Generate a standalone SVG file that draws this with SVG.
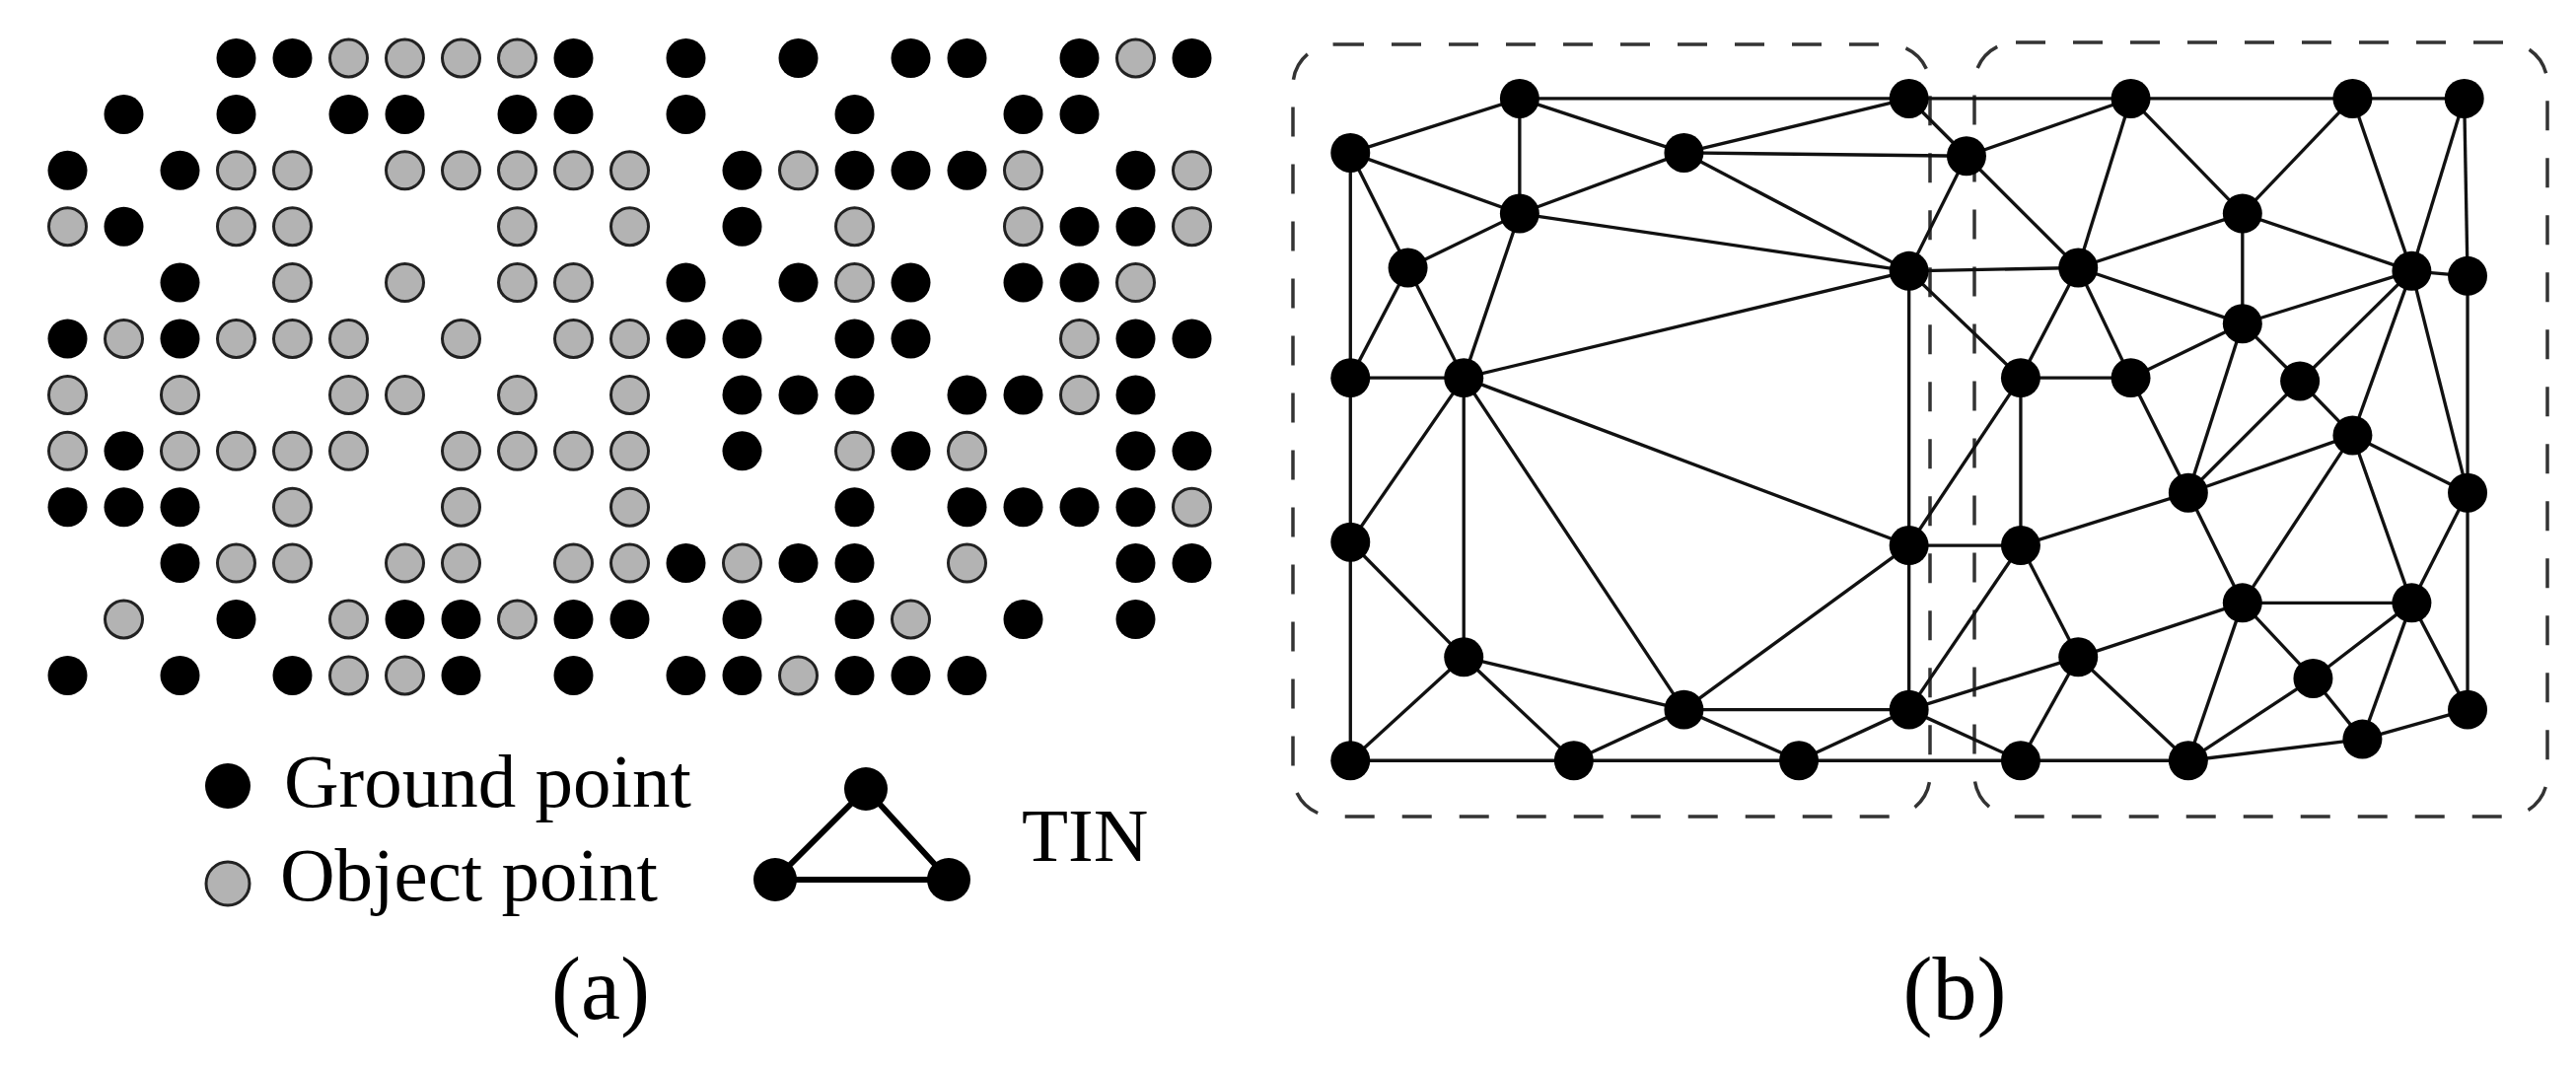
<svg xmlns="http://www.w3.org/2000/svg" width="2612" height="1084" viewBox="0 0 2612 1084">
<style>
.g{fill:#000}
.o{fill:#b3b3b3;stroke:#222;stroke-width:3}
.n{fill:#000}
.e line{stroke:#111;stroke-width:2}
.box{fill:none;stroke:#333;stroke-width:3.5;stroke-dasharray:30 28}
text{font-family:"Liberation Serif","Times New Roman",serif;fill:#000}
</style>
<rect width="2612" height="1084" fill="#fff"/>
<g id="points" transform="translate(68.5,59)">
<!-- row0 -->
<g transform="translate(0,0)">
<circle class="g" cx="171" cy="0" r="20"/><circle class="g" cx="228" cy="0" r="20"/><circle class="o" cx="285" cy="0" r="19"/><circle class="o" cx="342" cy="0" r="19"/><circle class="o" cx="399" cy="0" r="19"/><circle class="o" cx="456" cy="0" r="19"/><circle class="g" cx="513" cy="0" r="20"/><circle class="g" cx="627" cy="0" r="20"/><circle class="g" cx="741" cy="0" r="20"/><circle class="g" cx="855" cy="0" r="20"/><circle class="g" cx="912" cy="0" r="20"/><circle class="g" cx="1026" cy="0" r="20"/><circle class="o" cx="1083" cy="0" r="19"/><circle class="g" cx="1140" cy="0" r="20"/>
</g>
<g transform="translate(0,56.9)">
<circle class="g" cx="57" cy="0" r="20"/><circle class="g" cx="171" cy="0" r="20"/><circle class="g" cx="285" cy="0" r="20"/><circle class="g" cx="342" cy="0" r="20"/><circle class="g" cx="456" cy="0" r="20"/><circle class="g" cx="513" cy="0" r="20"/><circle class="g" cx="627" cy="0" r="20"/><circle class="g" cx="798" cy="0" r="20"/><circle class="g" cx="969" cy="0" r="20"/><circle class="g" cx="1026" cy="0" r="20"/>
</g>
<g transform="translate(0,113.8)">
<circle class="g" cx="0" cy="0" r="20"/><circle class="g" cx="114" cy="0" r="20"/><circle class="o" cx="171" cy="0" r="19"/><circle class="o" cx="228" cy="0" r="19"/><circle class="o" cx="342" cy="0" r="19"/><circle class="o" cx="399" cy="0" r="19"/><circle class="o" cx="456" cy="0" r="19"/><circle class="o" cx="513" cy="0" r="19"/><circle class="o" cx="570" cy="0" r="19"/><circle class="g" cx="684" cy="0" r="20"/><circle class="o" cx="741" cy="0" r="19"/><circle class="g" cx="798" cy="0" r="20"/><circle class="g" cx="855" cy="0" r="20"/><circle class="g" cx="912" cy="0" r="20"/><circle class="o" cx="969" cy="0" r="19"/><circle class="g" cx="1083" cy="0" r="20"/><circle class="o" cx="1140" cy="0" r="19"/>
</g>
<g transform="translate(0,170.7)">
<circle class="o" cx="0" cy="0" r="19"/><circle class="g" cx="57" cy="0" r="20"/><circle class="o" cx="171" cy="0" r="19"/><circle class="o" cx="228" cy="0" r="19"/><circle class="o" cx="456" cy="0" r="19"/><circle class="o" cx="570" cy="0" r="19"/><circle class="g" cx="684" cy="0" r="20"/><circle class="o" cx="798" cy="0" r="19"/><circle class="o" cx="969" cy="0" r="19"/><circle class="g" cx="1026" cy="0" r="20"/><circle class="g" cx="1083" cy="0" r="20"/><circle class="o" cx="1140" cy="0" r="19"/>
</g>
<g transform="translate(0,227.6)">
<circle class="g" cx="114" cy="0" r="20"/><circle class="o" cx="228" cy="0" r="19"/><circle class="o" cx="342" cy="0" r="19"/><circle class="o" cx="456" cy="0" r="19"/><circle class="o" cx="513" cy="0" r="19"/><circle class="g" cx="627" cy="0" r="20"/><circle class="g" cx="741" cy="0" r="20"/><circle class="o" cx="798" cy="0" r="19"/><circle class="g" cx="855" cy="0" r="20"/><circle class="g" cx="969" cy="0" r="20"/><circle class="g" cx="1026" cy="0" r="20"/><circle class="o" cx="1083" cy="0" r="19"/>
</g>
<g transform="translate(0,284.5)">
<circle class="g" cx="0" cy="0" r="20"/><circle class="o" cx="57" cy="0" r="19"/><circle class="g" cx="114" cy="0" r="20"/><circle class="o" cx="171" cy="0" r="19"/><circle class="o" cx="228" cy="0" r="19"/><circle class="o" cx="285" cy="0" r="19"/><circle class="o" cx="399" cy="0" r="19"/><circle class="o" cx="513" cy="0" r="19"/><circle class="o" cx="570" cy="0" r="19"/><circle class="g" cx="627" cy="0" r="20"/><circle class="g" cx="684" cy="0" r="20"/><circle class="g" cx="798" cy="0" r="20"/><circle class="g" cx="855" cy="0" r="20"/><circle class="o" cx="1026" cy="0" r="19"/><circle class="g" cx="1083" cy="0" r="20"/><circle class="g" cx="1140" cy="0" r="20"/>
</g>
<g transform="translate(0,341.4)">
<circle class="o" cx="0" cy="0" r="19"/><circle class="o" cx="114" cy="0" r="19"/><circle class="o" cx="285" cy="0" r="19"/><circle class="o" cx="342" cy="0" r="19"/><circle class="o" cx="456" cy="0" r="19"/><circle class="o" cx="570" cy="0" r="19"/><circle class="g" cx="684" cy="0" r="20"/><circle class="g" cx="741" cy="0" r="20"/><circle class="g" cx="798" cy="0" r="20"/><circle class="g" cx="912" cy="0" r="20"/><circle class="g" cx="969" cy="0" r="20"/><circle class="o" cx="1026" cy="0" r="19"/><circle class="g" cx="1083" cy="0" r="20"/>
</g>
<g transform="translate(0,398.3)">
<circle class="o" cx="0" cy="0" r="19"/><circle class="g" cx="57" cy="0" r="20"/><circle class="o" cx="114" cy="0" r="19"/><circle class="o" cx="171" cy="0" r="19"/><circle class="o" cx="228" cy="0" r="19"/><circle class="o" cx="285" cy="0" r="19"/><circle class="o" cx="399" cy="0" r="19"/><circle class="o" cx="456" cy="0" r="19"/><circle class="o" cx="513" cy="0" r="19"/><circle class="o" cx="570" cy="0" r="19"/><circle class="g" cx="684" cy="0" r="20"/><circle class="o" cx="798" cy="0" r="19"/><circle class="g" cx="855" cy="0" r="20"/><circle class="o" cx="912" cy="0" r="19"/><circle class="g" cx="1083" cy="0" r="20"/><circle class="g" cx="1140" cy="0" r="20"/>
</g>
<g transform="translate(0,455.2)">
<circle class="g" cx="0" cy="0" r="20"/><circle class="g" cx="57" cy="0" r="20"/><circle class="g" cx="114" cy="0" r="20"/><circle class="o" cx="228" cy="0" r="19"/><circle class="o" cx="399" cy="0" r="19"/><circle class="o" cx="570" cy="0" r="19"/><circle class="g" cx="798" cy="0" r="20"/><circle class="g" cx="912" cy="0" r="20"/><circle class="g" cx="969" cy="0" r="20"/><circle class="g" cx="1026" cy="0" r="20"/><circle class="g" cx="1083" cy="0" r="20"/><circle class="o" cx="1140" cy="0" r="19"/>
</g>
<g transform="translate(0,512.1)">
<circle class="g" cx="114" cy="0" r="20"/><circle class="o" cx="171" cy="0" r="19"/><circle class="o" cx="228" cy="0" r="19"/><circle class="o" cx="342" cy="0" r="19"/><circle class="o" cx="399" cy="0" r="19"/><circle class="o" cx="513" cy="0" r="19"/><circle class="o" cx="570" cy="0" r="19"/><circle class="g" cx="627" cy="0" r="20"/><circle class="o" cx="684" cy="0" r="19"/><circle class="g" cx="741" cy="0" r="20"/><circle class="g" cx="798" cy="0" r="20"/><circle class="o" cx="912" cy="0" r="19"/><circle class="g" cx="1083" cy="0" r="20"/><circle class="g" cx="1140" cy="0" r="20"/>
</g>
<g transform="translate(0,569)">
<circle class="o" cx="57" cy="0" r="19"/><circle class="g" cx="171" cy="0" r="20"/><circle class="o" cx="285" cy="0" r="19"/><circle class="g" cx="342" cy="0" r="20"/><circle class="g" cx="399" cy="0" r="20"/><circle class="o" cx="456" cy="0" r="19"/><circle class="g" cx="513" cy="0" r="20"/><circle class="g" cx="570" cy="0" r="20"/><circle class="g" cx="684" cy="0" r="20"/><circle class="g" cx="798" cy="0" r="20"/><circle class="o" cx="855" cy="0" r="19"/><circle class="g" cx="969" cy="0" r="20"/><circle class="g" cx="1083" cy="0" r="20"/>
</g>
<g transform="translate(0,625.9)">
<circle class="g" cx="0" cy="0" r="20"/><circle class="g" cx="114" cy="0" r="20"/><circle class="g" cx="228" cy="0" r="20"/><circle class="o" cx="285" cy="0" r="19"/><circle class="o" cx="342" cy="0" r="19"/><circle class="g" cx="399" cy="0" r="20"/><circle class="g" cx="513" cy="0" r="20"/><circle class="g" cx="627" cy="0" r="20"/><circle class="g" cx="684" cy="0" r="20"/><circle class="o" cx="741" cy="0" r="19"/><circle class="g" cx="798" cy="0" r="20"/><circle class="g" cx="855" cy="0" r="20"/><circle class="g" cx="912" cy="0" r="20"/>
</g>
</g>
<g id="legend">
<circle class="g" cx="231" cy="797" r="23"/>
<text x="288" y="818" font-size="77">Ground point</text>
<circle class="o" cx="231" cy="896" r="22"/>
<text x="284" y="913" font-size="77">Object point</text>
<polygon points="878,800 786,892 962,892" fill="none" stroke="#000" stroke-width="6"/>
<circle class="g" cx="878" cy="800" r="22"/><circle class="g" cx="786" cy="892" r="22"/><circle class="g" cx="962" cy="892" r="22"/>
<text x="1036" y="873" font-size="77">TIN</text>
<text x="609" y="1033" font-size="90" text-anchor="middle">(a)</text>
</g>
<g id="boxes">
<rect class="box" x="1311" y="45" width="646" height="783" rx="42"/>
<rect class="box" x="2002" y="43" width="581" height="785" rx="42"/>
</g>
<g id="connectors" class="e" transform="scale(1.6658)">
<line x1="822" y1="93" x2="925" y2="60"/><line x1="822" y1="93" x2="925" y2="130"/><line x1="822" y1="93" x2="857" y2="163"/><line x1="822" y1="93" x2="822" y2="230"/>
<line x1="925" y1="60" x2="1025" y2="93"/><line x1="925" y1="60" x2="1162" y2="60"/><line x1="925" y1="60" x2="925" y2="130"/>
<line x1="1025" y1="93" x2="1162" y2="60"/><line x1="1025" y1="93" x2="1197" y2="95"/><line x1="1025" y1="93" x2="925" y2="130"/><line x1="1025" y1="93" x2="1162" y2="165"/>
<line x1="925" y1="130" x2="1162" y2="165"/><line x1="925" y1="130" x2="857" y2="163"/><line x1="925" y1="130" x2="891" y2="230"/>
<line x1="857" y1="163" x2="822" y2="230"/><line x1="857" y1="163" x2="891" y2="230"/>
<line x1="1162" y1="60" x2="1197" y2="95"/><line x1="1162" y1="60" x2="1297" y2="60"/>
<line x1="1197" y1="95" x2="1297" y2="60"/><line x1="1197" y1="95" x2="1162" y2="165"/><line x1="1197" y1="95" x2="1265" y2="163"/>
<line x1="1162" y1="165" x2="891" y2="230"/><line x1="1162" y1="165" x2="1265" y2="163"/><line x1="1162" y1="165" x2="1230" y2="230"/><line x1="1162" y1="165" x2="1162" y2="332"/>
<line x1="822" y1="230" x2="891" y2="230"/><line x1="822" y1="230" x2="822" y2="330"/>
<line x1="891" y1="230" x2="1162" y2="332"/><line x1="891" y1="230" x2="1025" y2="432"/><line x1="891" y1="230" x2="891" y2="400"/><line x1="891" y1="230" x2="822" y2="330"/>
<line x1="822" y1="330" x2="891" y2="400"/><line x1="822" y1="330" x2="822" y2="463"/>
<line x1="891" y1="400" x2="822" y2="463"/><line x1="891" y1="400" x2="958" y2="463"/><line x1="891" y1="400" x2="1025" y2="432"/>
<line x1="1025" y1="432" x2="958" y2="463"/><line x1="1025" y1="432" x2="1095" y2="463"/><line x1="1025" y1="432" x2="1162" y2="432"/><line x1="1025" y1="432" x2="1162" y2="332"/>
<line x1="822" y1="463" x2="958" y2="463"/><line x1="958" y1="463" x2="1095" y2="463"/><line x1="1095" y1="463" x2="1230" y2="463"/>
<line x1="1095" y1="463" x2="1162" y2="432"/><line x1="1162" y1="432" x2="1230" y2="463"/><line x1="1162" y1="432" x2="1162" y2="332"/><line x1="1162" y1="432" x2="1230" y2="332"/><line x1="1162" y1="432" x2="1265" y2="400"/>
<line x1="1162" y1="332" x2="1230" y2="332"/><line x1="1162" y1="332" x2="1230" y2="230"/>
<line x1="1230" y1="332" x2="1230" y2="230"/><line x1="1230" y1="332" x2="1332" y2="300"/><line x1="1230" y1="332" x2="1265" y2="400"/>
<line x1="1230" y1="230" x2="1297" y2="230"/><line x1="1230" y1="230" x2="1265" y2="163"/>
<line x1="1297" y1="230" x2="1265" y2="163"/><line x1="1297" y1="230" x2="1365" y2="197"/><line x1="1297" y1="230" x2="1332" y2="300"/>
<line x1="1265" y1="163" x2="1297" y2="60"/><line x1="1265" y1="163" x2="1365" y2="130"/><line x1="1265" y1="163" x2="1365" y2="197"/>
<line x1="1297" y1="60" x2="1432" y2="60"/><line x1="1297" y1="60" x2="1365" y2="130"/>
<line x1="1432" y1="60" x2="1365" y2="130"/><line x1="1432" y1="60" x2="1468" y2="165"/><line x1="1432" y1="60" x2="1500" y2="60"/>
<line x1="1500" y1="60" x2="1468" y2="165"/><line x1="1500" y1="60" x2="1502" y2="168"/>
<line x1="1365" y1="130" x2="1365" y2="197"/><line x1="1365" y1="130" x2="1468" y2="165"/>
<line x1="1468" y1="165" x2="1502" y2="168"/><line x1="1468" y1="165" x2="1365" y2="197"/><line x1="1468" y1="165" x2="1400" y2="232"/><line x1="1468" y1="165" x2="1432" y2="265"/><line x1="1468" y1="165" x2="1502" y2="300"/>
<line x1="1365" y1="197" x2="1400" y2="232"/><line x1="1365" y1="197" x2="1332" y2="300"/>
<line x1="1400" y1="232" x2="1432" y2="265"/><line x1="1400" y1="232" x2="1332" y2="300"/>
<line x1="1432" y1="265" x2="1332" y2="300"/><line x1="1432" y1="265" x2="1502" y2="300"/><line x1="1432" y1="265" x2="1365" y2="367"/><line x1="1432" y1="265" x2="1468" y2="367"/>
<line x1="1502" y1="168" x2="1502" y2="300"/><line x1="1502" y1="300" x2="1468" y2="367"/><line x1="1502" y1="300" x2="1502" y2="432"/>
<line x1="1332" y1="300" x2="1365" y2="367"/>
<line x1="1365" y1="367" x2="1468" y2="367"/><line x1="1365" y1="367" x2="1265" y2="400"/><line x1="1365" y1="367" x2="1408" y2="413"/><line x1="1365" y1="367" x2="1332" y2="463"/>
<line x1="1468" y1="367" x2="1408" y2="413"/><line x1="1468" y1="367" x2="1438" y2="450"/><line x1="1468" y1="367" x2="1502" y2="432"/>
<line x1="1408" y1="413" x2="1438" y2="450"/><line x1="1408" y1="413" x2="1332" y2="463"/>
<line x1="1438" y1="450" x2="1502" y2="432"/><line x1="1438" y1="450" x2="1332" y2="463"/>
<line x1="1265" y1="400" x2="1230" y2="463"/><line x1="1265" y1="400" x2="1332" y2="463"/><line x1="1230" y1="463" x2="1332" y2="463"/>
</g>
<g id="nodes" transform="scale(1.6658)">
<circle class="n" cx="822" cy="93" r="12"/><circle class="n" cx="925" cy="60" r="12"/><circle class="n" cx="1025" cy="93" r="12"/><circle class="n" cx="1162" cy="60" r="12"/><circle class="n" cx="1197" cy="95" r="12"/><circle class="n" cx="925" cy="130" r="12"/><circle class="n" cx="857" cy="163" r="12"/><circle class="n" cx="1162" cy="165" r="12"/><circle class="n" cx="822" cy="230" r="12"/><circle class="n" cx="891" cy="230" r="12"/><circle class="n" cx="1297" cy="60" r="12"/><circle class="n" cx="1432" cy="60" r="12"/><circle class="n" cx="1500" cy="60" r="12"/><circle class="n" cx="1365" cy="130" r="12"/><circle class="n" cx="1265" cy="163" r="12"/><circle class="n" cx="1468" cy="165" r="12"/><circle class="n" cx="1502" cy="168" r="12"/><circle class="n" cx="1365" cy="197" r="12"/><circle class="n" cx="1230" cy="230" r="12"/><circle class="n" cx="1297" cy="230" r="12"/><circle class="n" cx="1400" cy="232" r="12"/><circle class="n" cx="1432" cy="265" r="12"/><circle class="n" cx="1332" cy="300" r="12"/><circle class="n" cx="1502" cy="300" r="12"/><circle class="n" cx="822" cy="330" r="12"/><circle class="n" cx="1162" cy="332" r="12"/><circle class="n" cx="1230" cy="332" r="12"/><circle class="n" cx="1365" cy="367" r="12"/><circle class="n" cx="1468" cy="367" r="12"/><circle class="n" cx="891" cy="400" r="12"/><circle class="n" cx="1265" cy="400" r="12"/><circle class="n" cx="1408" cy="413" r="12"/><circle class="n" cx="1025" cy="432" r="12"/><circle class="n" cx="1162" cy="432" r="12"/><circle class="n" cx="1502" cy="432" r="12"/><circle class="n" cx="1438" cy="450" r="12"/><circle class="n" cx="822" cy="463" r="12"/><circle class="n" cx="958" cy="463" r="12"/><circle class="n" cx="1095" cy="463" r="12"/><circle class="n" cx="1230" cy="463" r="12"/><circle class="n" cx="1332" cy="463" r="12"/>
</g>
<text x="1982" y="1033" font-size="90" text-anchor="middle">(b)</text>
</svg>
